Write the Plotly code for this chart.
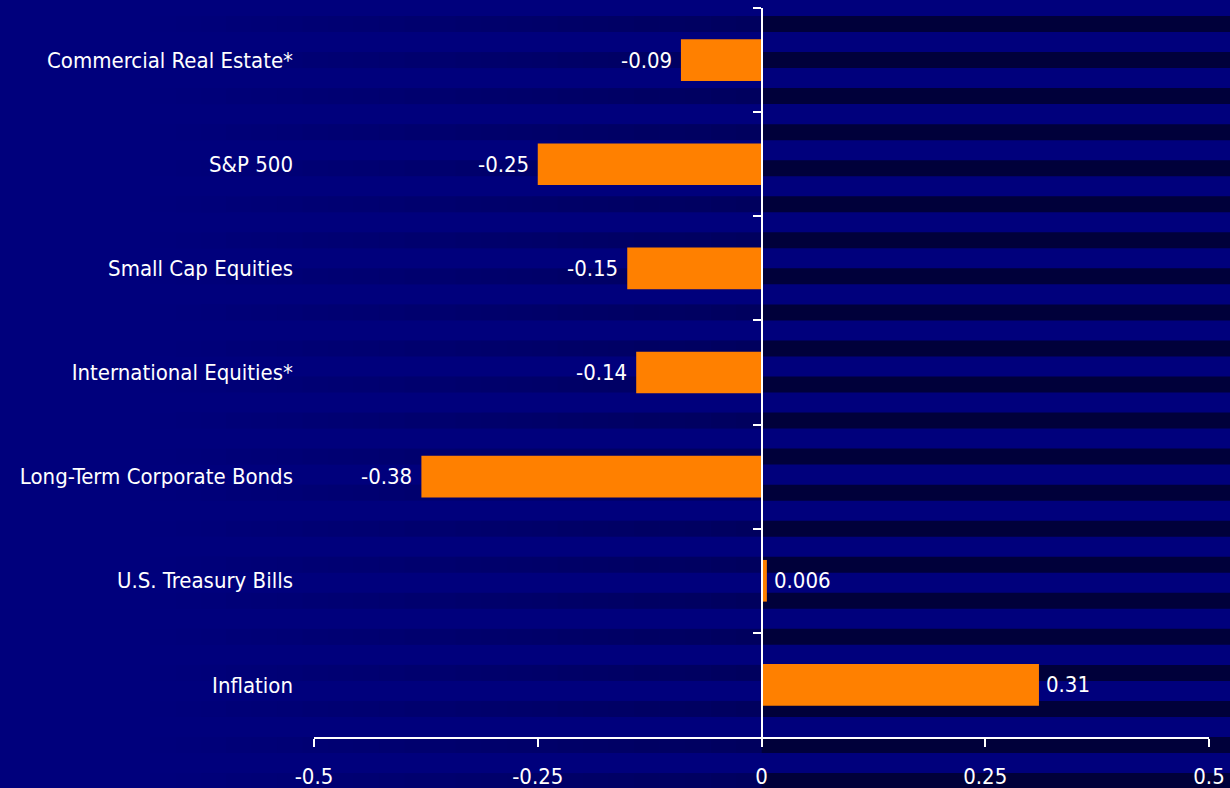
import plotly.graph_objects as go

categories = [
    "Commercial Real Estate*",
    "S&P 500",
    "Small Cap Equities",
    "International Equities*",
    "Long-Term Corporate Bonds",
    "U.S. Treasury Bills",
    "Inflation",
]
values = [-0.09, -0.25, -0.15, -0.14, -0.38, 0.006, 0.31]
value_labels = ["-0.09", "-0.25", "-0.15", "-0.14", "-0.38", "0.006", "0.31"]
x_ticks = [-0.5, -0.25, 0, 0.25, 0.5]
x_tick_labels = ["-0.5", "-0.25", "0", "0.25", "0.5"]

W, H = 1230, 788
ML, MR, MT, MB = 314, 21, 8, 51
PW, PH = W - ML - MR, H - MT - MB

FONT = "Liberation Sans Narrow, Arial Narrow, DejaVu Sans Condensed, sans-serif"
NAVY = "#00007c"
DARK = "#00003a"
ORANGE = "#ff8000"


def px_x(p):
    return (p - ML) / PW


def px_y(p):
    return (H - MB - p) / PH


# background stripes with a horizontal fade toward the left
shapes = []
period = 36.05
k = 0
zero_px = ML + PW / 2
fade_start = 150
nseg = 24
while True:
    top = 16 + k * period
    if top >= H:
        break
    bot = top + 16
    shapes.append(dict(type="rect", xref="paper", yref="paper",
                       x0=px_x(zero_px), x1=px_x(W + 5), y0=px_y(bot), y1=px_y(top),
                       fillcolor=DARK, line_width=0, layer="below"))
    seg_w = (zero_px - fade_start) / nseg
    for s in range(nseg):
        a = 0.45 * (s + 0.5) / nseg
        shapes.append(dict(type="rect", xref="paper", yref="paper",
                           x0=px_x(fade_start + s * seg_w), x1=px_x(fade_start + (s + 1) * seg_w),
                           y0=px_y(bot), y1=px_y(top),
                           fillcolor=DARK, opacity=a, line_width=0, layer="below"))
    k += 1

fig = go.Figure()
fig.add_trace(go.Bar(
    x=values, y=categories, orientation="h",
    marker=dict(color=ORANGE, line_width=0),
    width=0.4, hoverinfo="skip",
))
# invisible trace to carry the zero-anchored axis with boundary ticks
fig.add_trace(go.Bar(
    x=[0] * len(categories), y=categories, orientation="h", yaxis="y2",
    marker=dict(color="rgba(0,0,0,0)"), hoverinfo="skip", showlegend=False,
))

annotations = []
for c, v, t in zip(categories, values, value_labels):
    annotations.append(dict(
        x=v, y=c, xref="x", yref="y", text=t, showarrow=False,
        xanchor="right" if v < 0 else "left",
        xshift=-7 if v < 0 else 5, yshift=0,
        font=dict(size=22, color="white", family=FONT),
    ))

n = len(categories)
fig.update_layout(
    width=W, height=H,
    margin=dict(l=ML, r=MR, t=MT, b=MB, autoexpand=False),
    paper_bgcolor=NAVY, plot_bgcolor="rgba(0,0,0,0)",
    showlegend=False,
    font=dict(family=FONT, size=22, color="white"),
    shapes=shapes,
    annotations=annotations,
    bargap=0.6,
    xaxis=dict(
        range=[-0.5, 0.5], tickvals=x_ticks, ticktext=x_tick_labels,
        showgrid=False, zeroline=False, automargin=False,
        showline=True, linecolor="white", linewidth=1.5,
        ticks="outside", ticklen=8, tickwidth=1.5, tickcolor="white",
        tickfont=dict(size=22, color="white", family=FONT),
        ticklabelstandoff=11,
    ),
    yaxis=dict(
        type="category", categoryorder="array", categoryarray=categories,
        range=[n - 0.5, -0.5], automargin=False,
        showgrid=False, zeroline=False, showline=False, ticks="",
        tickfont=dict(size=22, color="white", family=FONT),
        ticklabelstandoff=20,
    ),
    yaxis2=dict(
        type="category", categoryorder="array", categoryarray=categories,
        range=[n - 0.5, -0.5], overlaying="y", anchor="free", position=0.5,
        side="left", showgrid=False, zeroline=False, automargin=False,
        showline=True, linecolor="white", linewidth=1.5,
        ticks="outside", tickson="boundaries", ticklen=8, tickwidth=1.5, tickcolor="white",
        showticklabels=False,
    ),
)

fig.write_html("out.html")
